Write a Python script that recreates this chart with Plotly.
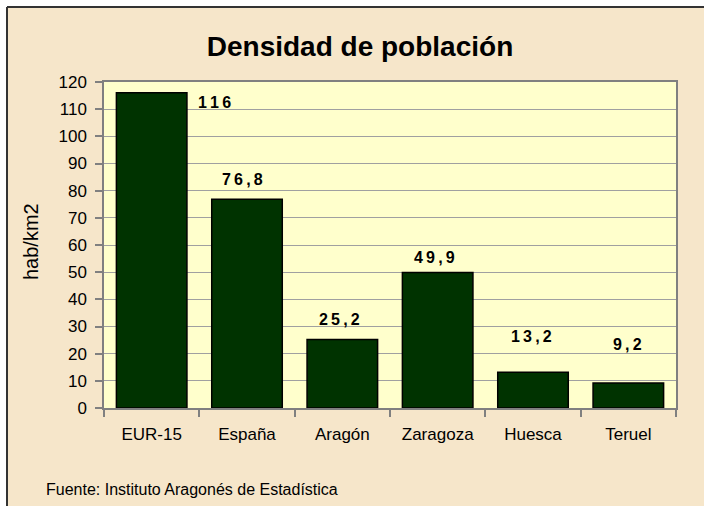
import plotly.graph_objects as go

# ---- data ----
categories = ["EUR-15", "España", "Aragón", "Zaragoza", "Huesca", "Teruel"]
density = [116, 76.8, 25.2, 49.9, 13.2, 9.2]
value_labels = ["116", "76,8", "25,2", "49,9", "13,2", "9,2"]
y_ticks = list(range(0, 121, 10))

title_text = "Densidad de población"
y_title = "hab/km2"
source_text = "Fuente: Instituto Aragonés de Estadística"

# ---- styling ----
W, H = 704, 506
L, R, T, B = 104, 28, 82, 98
pw, ph = W - L - R, H - T - B
FONT = "Liberation Sans, Arial, sans-serif"
BG = "#F6E6CA"
PLOT_BG = "#FFFFCC"
BAR = "#003300"
GRID = "#A0A0A0"
AX = "#808080"

# label offsets (px) for the value labels, as placed in the original
label_dx = [63, -5, -3, -3, -2, -1]
label_dy = [-10, 20, 20, 15, 36, 39]


def px_x(x):
    return (x - L) / pw


def px_y(y):
    return (H - B - y) / ph


fig = go.Figure()
fig.add_trace(go.Bar(
    x=categories, y=density,
    marker=dict(color=BAR, line=dict(color="#000000", width=1.5)),
    hoverinfo="skip",
))

annotations = []
for c, v, lab, dx, dy in zip(categories, density, value_labels, label_dx, label_dy):
    annotations.append(dict(
        x=c, y=v, xref="x", yref="y", text="\u2009".join(lab), showarrow=False,
        xanchor="center", yanchor="middle", xshift=dx, yshift=dy,
        font=dict(family=FONT, size=16, color="#000000", weight="bold"),
    ))

annotations.append(dict(
    x=px_x(31), y=px_y(242), xref="paper", yref="paper", text=y_title,
    textangle=-90, showarrow=False, xanchor="center", yanchor="middle",
    font=dict(family=FONT, size=20, color="#000000"),
))
annotations.append(dict(
    x=px_x(44), y=px_y(489), xref="paper", yref="paper", text=source_text,
    showarrow=False, xanchor="left", yanchor="middle",
    font=dict(family=FONT, size=16, color="#000000"),
))

fx, fy = px_x(7), px_y(7)
shapes = [
    dict(type="rect", xref="paper", yref="paper", x0=-1, x1=fx, y0=-1, y1=3,
         fillcolor="#FFFFFF", line=dict(width=0), layer="above"),
    dict(type="rect", xref="paper", yref="paper", x0=-1, x1=3, y0=fy, y1=3,
         fillcolor="#FFFFFF", line=dict(width=0), layer="above"),
    dict(type="line", xref="paper", yref="paper", x0=fx, x1=fx, y0=-1, y1=fy,
         line=dict(color="#333333", width=2), layer="above"),
    dict(type="line", xref="paper", yref="paper", x0=fx, x1=3, y0=fy, y1=fy,
         line=dict(color="#333333", width=2), layer="above"),
]

fig.update_layout(
    width=W, height=H,
    margin=dict(l=L, r=R, t=T, b=B, autoexpand=False),
    paper_bgcolor=BG, plot_bgcolor=PLOT_BG,
    showlegend=False,
    bargap=0.26,
    title=dict(text=title_text, x=360 / W, xanchor="center", xref="container",
               y=1 - 46 / H, yanchor="middle", yref="container",
               font=dict(family=FONT, size=28, color="#000000", weight="bold")),
    annotations=annotations,
    shapes=shapes,
    font=dict(family=FONT, color="#000000"),
)

fig.update_xaxes(
    showline=True, linecolor=AX, linewidth=1.5, mirror=True,
    ticks="outside", ticklen=7, tickcolor=AX, tickwidth=1.5,
    tickson="boundaries", showgrid=False, ticklabelstandoff=10,
    tickfont=dict(family=FONT, size=17, color="#000000"),
    fixedrange=True,
)
fig.update_yaxes(
    range=[0, 120], tickvals=y_ticks, ticktext=[str(t) for t in y_ticks],
    showline=True, linecolor=AX, linewidth=1.5, mirror=True,
    ticks="outside", ticklen=7, tickcolor=AX, tickwidth=1.5,
    showgrid=True, gridcolor=GRID, gridwidth=1, ticklabelstandoff=5,
    zeroline=False,
    tickfont=dict(family=FONT, size=17, color="#000000"),
    fixedrange=True,
)

fig.write_html(
    "out.html",
    config={"displayModeBar": False},
    post_script="document.body.style.margin='0px';document.body.style.overflow='hidden';",
)
